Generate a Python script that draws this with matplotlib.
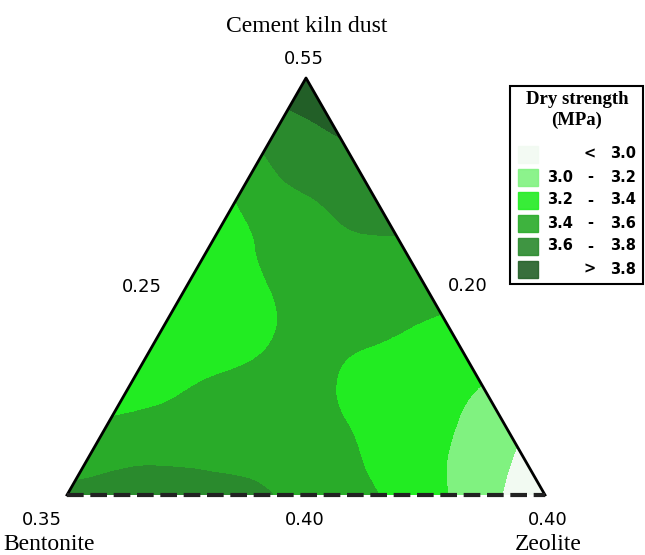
import numpy as np
import matplotlib
matplotlib.use("Agg")
import matplotlib.pyplot as plt
import matplotlib.tri as mtri
from matplotlib.patches import Rectangle

# Dry strength (MPa) on a triangular lattice.
# Row i = Cement kiln dust step (bottom edge -> apex), entries go from the
# Bentonite side to the Zeolite side.
strength_rows = [
    [3.70, 3.72, 3.72, 3.70, 3.66, 3.62, 3.50, 3.48, 3.38, 3.28, 3.13, 2.99, 2.85],
    [3.50, 3.57, 3.58, 3.57, 3.55, 3.50, 3.46, 3.39, 3.30, 3.205, 3.07, 2.97],
    [3.43, 3.47, 3.50, 3.50, 3.48, 3.45, 3.405, 3.33, 3.28, 3.17, 3.05],
    [3.30, 3.36, 3.44, 3.48, 3.50, 3.43, 3.32, 3.28, 3.25, 3.18],
    [3.30, 3.30, 3.34, 3.42, 3.48, 3.41, 3.34, 3.30, 3.27],
    [3.28, 3.28, 3.30, 3.43, 3.50, 3.50, 3.43, 3.37],
    [3.30, 3.30, 3.39, 3.49, 3.52, 3.52, 3.50],
    [3.30, 3.37, 3.48, 3.52, 3.55, 3.56],
    [3.36, 3.45, 3.52, 3.63, 3.66],
    [3.47, 3.60, 3.68, 3.72],
    [3.62, 3.70, 3.78],
    [3.78, 3.87],
    [3.90],
]

levels = [2.0, 3.0, 3.2, 3.4, 3.6, 3.8, 4.5]
level_colors = ["#f2faf2", "#80f280", "#22ec22", "#29ab29", "#2a8a2d", "#225f27"]
legend_low = ["", "3.0", "3.2", "3.4", "3.6", ""]
legend_high = ["3.0", "3.2", "3.4", "3.6", "3.8", "3.8"]
legend_sign = ["<", "-", "-", "-", "-", ">"]

apex_label = "Cement kiln dust"
left_label = "Bentonite"
right_label = "Zeolite"
apex_value = "0.55"
left_edge_value = "0.25"
right_edge_value = "0.20"
bottom_values = ["0.35", "0.40", "0.40"]

W, H = 645, 555
h = np.sqrt(3) / 2


def px(x, y):
    """pixel position -> figure fraction"""
    return x / W, 1 - y / H


def lattice(rows):
    n = len(rows) - 1
    xs, ys, zs = [], [], []
    for i, row in enumerate(rows):
        for j, v in enumerate(row):
            t = i / n
            r = j / n
            xs.append(r + t / 2)
            ys.append(t * h)
            zs.append(v)
    return np.array(xs), np.array(ys), np.array(zs)


fig = plt.figure(figsize=(W / 100, H / 100), dpi=100)
ax = fig.add_axes([67 / W, 60 / H, 478 / W, 417 / H])
ax.set_xlim(0, 1)
ax.set_ylim(0, h)
ax.axis("off")

x, y, z = lattice(strength_rows)
tri = mtri.Triangulation(x, y)
refiner = mtri.UniformTriRefiner(tri)
tri_f, z_f = refiner.refine_field(z, subdiv=3)
ax.tricontourf(tri_f, z_f, levels=levels, colors=level_colors)

# triangle frame: solid sides, dashed base
ax.plot([0, 0.5, 1], [0, h, 0], color="black", lw=2, clip_on=False)
ax.plot([0, 1], [0, 0], color="#222222", lw=3, ls=(0, (4, 1.6)), clip_on=False)

serif = "Liberation Serif"
sans = "DejaVu Sans"
fig.text(*px(307, 27), apex_label, family=serif, fontsize=17, ha="center", va="center")
fig.text(*px(304, 59), apex_value, family=sans, fontsize=13, ha="center", va="center")
fig.text(*px(142, 287), left_edge_value, family=sans, fontsize=13, ha="center", va="center")
fig.text(*px(468, 286), right_edge_value, family=sans, fontsize=13, ha="center", va="center")
for xp, lab in zip([42, 305, 548], bottom_values):
    fig.text(*px(xp, 520), lab, family=sans, fontsize=13, ha="center", va="center")
fig.text(*px(49, 545), left_label, family=serif, fontsize=17, ha="center", va="center")
fig.text(*px(548, 545), right_label, family=serif, fontsize=17, ha="center", va="center")

# legend box drawn by hand (pixel coordinates)
lax = fig.add_axes([0, 0, 1, 1], facecolor="none")
lax.set_xlim(0, W)
lax.set_ylim(H, 0)
lax.axis("off")
lax.add_patch(Rectangle((510, 86), 133, 198, fill=False, edgecolor="black", lw=1.5))
lax.text(577, 99, "Dry strength", family=serif, fontweight="bold", fontsize=13.5,
         ha="center", va="center")
lax.text(577, 120, "(MPa)", family=serif, fontweight="bold", fontsize=13.5,
         ha="center", va="center")
for k, c in enumerate(level_colors):
    yy = 154 + 23 * k
    lax.add_patch(Rectangle((518, yy - 8.5), 20, 17, color=c, alpha=0.9))
    lax.text(573, yy, legend_low[k], family=sans, fontweight="bold", fontsize=10.5,
             ha="right", va="center")
    lax.text(590, yy, legend_sign[k], family=sans, fontweight="bold", fontsize=10.5,
             ha="center", va="center")
    lax.text(636, yy, legend_high[k], family=sans, fontweight="bold", fontsize=10.5,
             ha="right", va="center")

fig.savefig("out.png", dpi=100)
